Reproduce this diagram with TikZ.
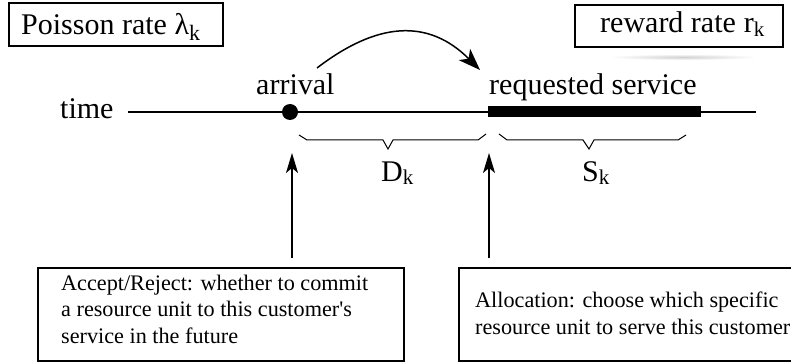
\documentclass[tikz,border=0pt]{standalone}
\usepackage{fontspec}
\setmainfont{Liberation Serif}
\usetikzlibrary{arrows.meta}

% lowered subscript "k" with its own size
\newcommand\subk[2]{\raisebox{-#1}{\fontsize{#2}{#2}\selectfont k}}

\tikzset{
  lbl/.style={inner sep=0pt, anchor=base west, font=\fontsize{30}{32}\selectfont},
  ratebox/.style={draw, line width=2pt, inner sep=0pt, anchor=north west},
  notebox/.style={draw, line width=1.5pt, inner sep=0pt, anchor=north west},
  notetext/.style={inner sep=0pt, anchor=north west, align=left,
    font=\fontsize{22.2}{26.5}\selectfont},
  bracepath/.style={line width=1pt, line join=miter},
  uparrow/.style={line width=1.5pt, -{Stealth[length=20pt, width=12pt, inset=5pt]}},
  timeline/.style={line width=1.5pt},
}

\begin{document}
\begin{tikzpicture}[x=1pt, y=-1pt]
\useasboundingbox (0,0) rectangle (791,363);
\clip (0,0) rectangle (791,363);

% rate boxes at the top
\node[ratebox, minimum width=214pt, minimum height=43pt] (poisson) at (8,2) {};
\node[lbl] (poissontext) at (21,35) {Poisson rate λ\subk{6pt}{22}};

% soft shadow under the reward box
\shade[inner color=black!18, outer color=white] (683,57) ellipse (75 and 3);
\node[ratebox, minimum width=208pt, minimum height=42pt] (reward) at (574,4) {};
\node[lbl] (rewardtext) at (600,33) {reward rate\hspace{8pt}r\subk{4pt}{21}};

% time axis
\node[lbl] (timelabel) at (60,119) {time};
\coordinate (axisL) at (128,112);
\coordinate (axisR) at (756,112);
\draw[timeline] (axisL) -- (axisR);

% arrival point and requested service interval
\node[circle, fill=black, inner sep=0pt, minimum size=16pt] (arrival) at (290,112) {};
\node[lbl] (arrivaltext) at (256,95) {arrival};
\coordinate (servStart) at (488,112);
\coordinate (servEnd) at (701,112);
\draw[line width=11pt] (servStart) -- (servEnd);
\node[lbl] (servicetext) at (489,95) {requested service};

% arrival leads to the requested service
\draw[line width=1.5pt, -{Stealth[length=22pt, width=16pt, inset=6pt]}]
  (317,68) .. controls (377,22) and (428,18) .. (480,70);

% angular braces under the axis
\draw[bracepath] (299,135) -- (307,140) -- (383,140) -- (388,149)
  -- (393,140) -- (478,140) -- (486,134);
\draw[bracepath] (499,134) -- (507,140) -- (583,140) -- (589,149)
  -- (594,140) -- (678,140) -- (686,135);
\node[lbl] (dlabel) at (381,182) {D\subk{3pt}{21}};
\node[lbl] (slabel) at (582,182) {S\subk{3pt}{21}};

% decision boxes
\node[notebox, minimum width=366pt, minimum height=93pt] (accept) at (37,267) {};
\node[notetext] (accepttext) at (61,274.8)
  {Accept/Reject: whether to commit\\a resource unit to this customer\textquotesingle s\\service in the future};
\node[notebox, minimum width=360pt, minimum height=93pt] (alloc) at (458,267) {};
\node[notetext] (alloctext) at (475,292)
  {Allocation: choose which specific\\resource unit to serve this customer};

% decision moments on the axis
\coordinate (acceptTail) at (292,258);
\coordinate (acceptTip) at (292,153);
\coordinate (allocTail) at (489,258);
\coordinate (allocTip) at (489,153);
\draw[uparrow] (acceptTail) -- (acceptTip);
\draw[uparrow] (allocTail) -- (allocTip);
\end{tikzpicture}
\end{document}
